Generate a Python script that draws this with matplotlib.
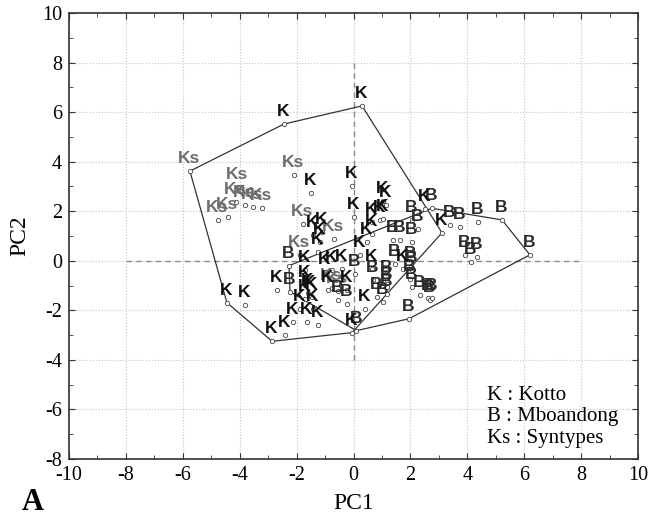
import numpy as np
import matplotlib
matplotlib.use("Agg")
import matplotlib.pyplot as plt

# PCA scores (PC1, PC2)
k_x = [-2.44, 0.30, -1.49, -0.05, 0.02, 1.04, 1.15, 2.50, 3.11,
       -1.42, -1.11, -1.18, -1.25, 0.65, 0.93, 1.04, 0.47, 0.65, 0.23,
       -1.70, -1.00, -0.76, -0.40, 0.65, 1.74, -2.69, -1.70, -0.90, -0.23,
       -1.70, -1.46, -1.88, -1.42, 0.40, -2.13, -1.63, -1.25, -2.86, -2.40,
       -4.45, -3.81, -0.05, -1.60, -1.55]
k_y = [5.52, 6.25, 2.74, 3.02, 1.77, 2.42, 2.26, 2.10, 1.13,
       1.05, 1.17, 0.77, 0.36, 1.57, 1.65, 1.69, 0.77, 1.09, 0.24,
       -0.36, -0.44, -0.36, -0.32, -0.32, -0.32, -1.17, -0.97, -1.17, -1.17,
       -1.53, -1.45, -1.94, -1.94, -1.94, -2.46, -2.46, -2.58, -3.25, -3.00,
       -1.69, -1.77, -2.90, -1.30, -1.40]

b_x = [-2.27, -2.23, 0.05, 0.69, 1.18, 1.46, 2.06, 1.99, 2.06, 1.18,
       0.83, 1.18, 1.04, 2.34, 2.62, 2.69, 2.76, -0.23, -0.54, 1.95,
       0.10, 2.06, 2.27, 2.75, 3.39, 3.74, 4.38, 5.22, 6.20, 3.92,
       4.13, 4.34, 1.39, 1.63, 2.06, 2.02]
b_y = [-0.20, -1.25, -0.52, -0.77, -0.77, -0.12, -0.36, -0.73, -1.05, -1.05,
       -1.45, -1.33, -1.65, -1.37, -1.49, -1.57, -1.49, -1.73, -1.57, -2.34,
       -2.82, 1.65, 1.29, 2.12, 1.45, 1.37, 1.57, 1.65, 0.24, 0.24,
       -0.04, 0.16, 0.85, 0.85, 0.77, -0.20]

ks_x = [-5.75, -4.06, -4.13, -3.81, -3.53, -3.22, -4.76, -4.41, -2.09,
        -1.78, -0.69, -1.88, -0.76, -0.54]
ks_y = [3.62, 2.98, 2.38, 2.26, 2.18, 2.14, 1.65, 1.77, 3.47,
        1.49, 0.89, 0.24, -1.09, -1.21]

legend_lines = ["K : Kotto", "B : Mboandong", "Ks : Syntypes"]


def convex_hull(xs, ys):
    pts = sorted(set(zip(xs, ys)))

    def cross(o, a, b):
        return (a[0] - o[0]) * (b[1] - o[1]) - (a[1] - o[1]) * (b[0] - o[0])

    lower = []
    for p in pts:
        while len(lower) >= 2 and cross(lower[-2], lower[-1], p) <= 0:
            lower.pop()
        lower.append(p)
    upper = []
    for p in reversed(pts):
        while len(upper) >= 2 and cross(upper[-2], upper[-1], p) <= 0:
            upper.pop()
        upper.append(p)
    hull = lower[:-1] + upper[:-1]
    hull.append(hull[0])
    return [p[0] for p in hull], [p[1] for p in hull]


plt.rcParams["axes.unicode_minus"] = False
serif = "Liberation Serif"

fig = plt.figure(figsize=(6.49, 5.21), dpi=100)
ax = fig.add_axes([69 / 649, 1 - 459 / 521, 569 / 649, 446 / 521])

ax.set_xlim(-10, 10)
ax.set_ylim(-8, 10)
ax.set_xticks(np.arange(-10, 11, 2))
ax.set_yticks(np.arange(-8, 11, 2))
ax.set_xticks(np.arange(-10, 11, 1), minor=True)
ax.set_yticks(np.arange(-8, 11, 1), minor=True)
ax.grid(True, which="major", color="#c4c4c4", linestyle=":", linewidth=0.8)
ax.set_axisbelow(True)
ax.tick_params(which="both", direction="in", top=True, right=True,
               color="#333333", pad=5)
ax.tick_params(which="major", length=4, labelsize=14.5)
ax.tick_params(which="minor", length=3)
for lab in ax.get_xticklabels() + ax.get_yticklabels():
    lab.set_fontfamily(serif)
for sp in ax.spines.values():
    sp.set_linewidth(1.2)
    sp.set_color("#333333")

# dashed origin lines
ax.plot([-8, 8], [0, 0], ls=(0, (4, 3)), color="#8a8a8a", lw=1.0, zorder=1)
ax.plot([0, 0], [-4, 8], ls=(0, (4, 3)), color="#8a8a8a", lw=1.0, zorder=1)

# hulls
hx, hy = convex_hull(k_x + ks_x, k_y + ks_y)
ax.plot(hx, hy, color="#333333", lw=0.9, zorder=2)
hx, hy = convex_hull(b_x, b_y)
ax.plot(hx, hy, color="#333333", lw=0.9, zorder=2)

groups = [(ks_x, ks_y, "Ks", "#6e6e6e"),
          (b_x, b_y, "B", "#2b2b2b"),
          (k_x, k_y, "K", "#111111")]
for xs, ys, lab, col in groups:
    ax.scatter(xs, ys, s=10, facecolors="white", edgecolors="#444444",
               linewidths=0.6, zorder=3)
    for x, y in zip(xs, ys):
        ax.annotate(lab, (x, y), xytext=(-0.5, 9), textcoords="offset points",
                    ha="center", va="center", fontsize=12.5, fontweight="bold",
                    family="Liberation Sans", color=col, zorder=4)

for i, t in enumerate(legend_lines):
    ax.text(0.735, 0.143 - i * 0.048, t, transform=ax.transAxes,
            fontsize=15, family=serif, va="center", ha="left")

ax.set_xlabel("PC1", fontsize=17, family=serif, labelpad=6)
ax.set_ylabel("PC2", fontsize=17, family=serif, labelpad=8)
fig.text(22 / 649, 1 - 503 / 521, "A", fontsize=22, fontweight="bold",
         family=serif, ha="left", va="center")

fig.savefig("out.png", dpi=100)
